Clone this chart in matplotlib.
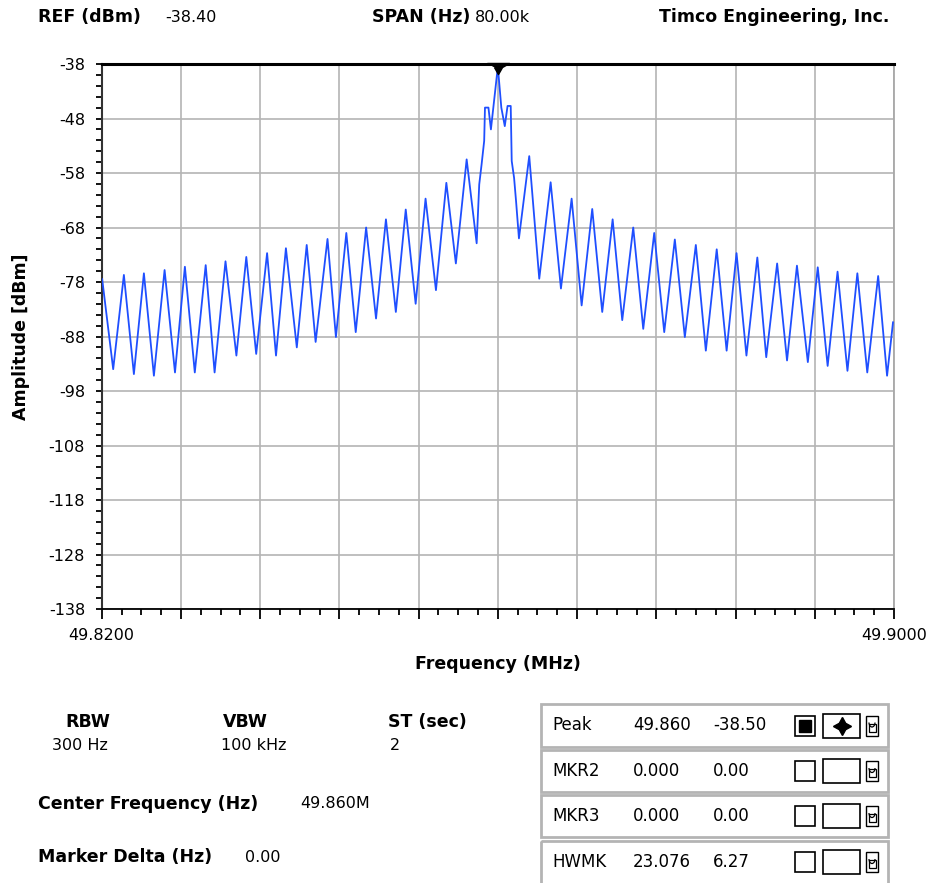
import numpy as np
import matplotlib
matplotlib.use('Agg')
import matplotlib.pyplot as plt
from matplotlib.patches import Rectangle, Arc
from matplotlib.ticker import FixedLocator, FuncFormatter

# trace: offset from centre (kHz) and level (dBm)
offset_khz = [-39.95, -38.84, -37.76, -36.75, -35.74, -34.73, -33.65, -32.60,
              -31.60, -30.60, -29.50, -28.60, -27.50, -26.40, -25.40, -24.40,
              -23.30, -22.40, -21.40, -20.30, -19.30, -18.40, -17.20, -16.35,
              -15.30, -14.35, -13.30, -12.30, -11.30, -10.30, -9.30, -8.30,
              -7.30, -6.25, -5.20, -4.24, -3.15, -2.14, -1.88, -1.64, -1.38,
              -1.30, -0.95, -0.70, 0.00, 0.35, 0.70, 0.98, 1.30, 1.40, 1.64,
              1.84, 2.13, 3.17, 4.18, 5.33, 6.37, 7.45, 8.46, 9.53, 10.54,
              11.59, 12.56, 13.67, 14.68, 15.79, 16.80, 17.87, 18.88, 19.99,
              21.00, 22.10, 23.10, 24.10, 25.10, 26.20, 27.10, 28.20, 29.20,
              30.20, 31.30, 32.30, 33.30, 34.30, 35.30, 36.30, 37.30, 38.40,
              39.30, 39.90]
level_dbm = [-77.5, -94.0, -76.7, -94.9, -76.4, -95.2, -75.8, -94.6,
             -75.2, -94.6, -74.9, -94.6, -74.2, -91.5, -73.4, -91.2,
             -72.7, -91.5, -71.8, -90.0, -71.2, -89.0, -70.1, -88.1,
             -69.0, -87.2, -68.0, -84.7, -66.5, -83.5, -64.7, -82.0,
             -62.7, -79.5, -59.8, -74.6, -55.5, -70.9, -60.1, -56.4, -52.1,
             -46.0, -46.0, -50.0, -38.5, -46.0, -49.4, -45.7, -45.7, -55.8, -58.9,
             -63.2, -70.0, -54.9, -77.4, -59.7, -79.2, -62.7, -82.3, -64.6, -83.5,
             -66.5, -85.0, -68.0, -86.6, -69.0, -87.2, -70.2, -88.1, -71.2,
             -90.6, -72.0, -90.6, -72.7, -91.5, -73.5, -91.8, -74.6, -92.4,
             -75.0, -92.7, -75.3, -93.4, -76.1, -94.3, -76.4, -94.6, -76.9,
             -95.2, -85.4]

center_mhz = 49.860
span_khz = 80.0
ref_dbm = -38.0
bottom_dbm = -138.0

header_labels = ['REF (dBm)', 'SPAN (Hz)']
header_values = ['-38.40', '80.00k']
company = 'Timco Engineering, Inc.'

bw_labels = ['RBW', 'VBW', 'ST (sec)']
bw_values = ['300 Hz', '100 kHz', '2']

mkr_names = ['Peak', 'MKR2', 'MKR3', 'HWMK']
mkr_freq = ['49.860', '0.000', '0.000', '23.076']
mkr_amp = ['-38.50', '0.00', '0.00', '6.27']

W, H = 934, 883
plt.rcParams['font.family'] = 'DejaVu Sans'
fig = plt.figure(figsize=(W / 100, H / 100), dpi=100)

# background layer in pixel coords for the screen text and marker table
bg = fig.add_axes([0, 0, 1, 1])
bg.set_xlim(0, W)
bg.set_ylim(H, 0)
bg.axis('off')

ax = fig.add_axes([101.7 / W, (H - 609) / H, (894 - 101.7) / W, (609 - 64) / H])

freq = center_mhz + np.array(offset_khz) / 1000.0
ax.plot(freq, level_dbm, color='#1f4fff', lw=1.3, zorder=3)

xmin = center_mhz - span_khz / 2000.0
xmax = center_mhz + span_khz / 2000.0
ax.set_xlim(xmin, xmax)
ax.set_ylim(bottom_dbm, ref_dbm)

ax.xaxis.set_major_locator(FixedLocator(np.linspace(xmin, xmax, 11)))
ax.xaxis.set_minor_locator(FixedLocator(np.linspace(xmin, xmax, 41)))
ax.yaxis.set_major_locator(FixedLocator(np.arange(bottom_dbm, ref_dbm + 1, 10)))
ax.yaxis.set_minor_locator(FixedLocator(np.arange(bottom_dbm, ref_dbm + 1, 2)))
ax.xaxis.set_major_formatter(FuncFormatter(
    lambda v, p: '%.4f' % v if (abs(v - xmin) < 1e-6 or abs(v - xmax) < 1e-6) else ''))
ax.yaxis.set_major_formatter(FuncFormatter(lambda v, p: '%d' % round(v)))

ax.grid(True, which='major', color='#b4b4b4', lw=1.2)
ax.tick_params(axis='x', which='major', direction='out', length=7, width=1.3, pad=7, labelsize=11.5)
ax.tick_params(axis='x', which='minor', direction='out', length=4.5, width=1.3)
ax.tick_params(axis='y', which='both', direction='out', length=4, width=1.3, pad=8, labelsize=11.5)

ax.spines['top'].set_linewidth(2.2)
ax.spines['top'].set_color('black')
ax.spines['left'].set_linewidth(1.5)
ax.spines['left'].set_color('#333333')
ax.spines['bottom'].set_linewidth(1.3)
ax.spines['right'].set_linewidth(1.3)
ax.spines['right'].set_color('#a8a8a8')

ax.set_xlabel('Frequency (MHz)', fontsize=12.5, fontweight='bold')
ax.set_ylabel('Amplitude [dBm]', fontsize=12.5, fontweight='bold')
ax.xaxis.set_label_coords(0.5, (609 - 655) / 545.0)
ax.yaxis.set_label_coords((30 - 101.7) / 792.3, 0.5)

# peak marker on the top edge
pk = int(np.argmax(level_dbm))
mk = [(-11, 1), (11, 1), (4, -3), (0, -10), (-4, -3)]
ax.plot(freq[pk], ref_dbm, marker=mk, markersize=16, color='black', clip_on=False, zorder=5)

fig.canvas.draw()
rend = fig.canvas.get_renderer()


def label_value(x, y, lab, val, val_x):
    t = bg.text(x, y, lab, fontsize=12.5, fontweight='bold', va='center')
    bb = t.get_window_extent(rend)
    xe = bb.x1 + 5
    bg.text(max(val_x, xe), y, val, fontsize=11.5, va='center')


# header line
label_value(38, 17, header_labels[0], header_values[0], 165)
label_value(372, 17, header_labels[1], header_values[1], 468)
bg.text(889, 17, company, fontsize=12.5, fontweight='bold', va='center', ha='right')

# bandwidth block
for x, lab in zip([88, 245, 388], bw_labels):
    ha = 'left' if lab.startswith('ST') else 'center'
    bg.text(x, 722, lab, fontsize=12.5, fontweight='bold', va='center', ha=ha)
for x, val in zip([80, 254, 390], bw_values):
    ha = 'left' if val == '2' else 'center'
    bg.text(x, 746, val, fontsize=11.5, va='center', ha=ha)

label_value(38, 804, 'Center Frequency (Hz)', '49.860M', 300)
label_value(38, 857, 'Marker Delta (Hz)', '0.00', 245)

# marker table
rows = [(704, 747), (750, 792), (795, 837), (841, 890)]
for i, (y0, y1) in enumerate(rows):
    bg.add_patch(Rectangle((541, y0), 347, y1 - y0, fill=False, ec='#b4b4b4', lw=2))
    ym = (y0 + y1) / 2.0 if i < 3 else 862
    bg.text(552, ym, mkr_names[i], fontsize=12, va='center')
    bg.text(633, ym, mkr_freq[i], fontsize=12, va='center')
    bg.text(713, ym, mkr_amp[i], fontsize=12, va='center')
    bg.add_patch(Rectangle((795, ym - 10), 20, 20, fill=False, ec='black', lw=1.2))
    bg.add_patch(Rectangle((823, ym - 12), 37, 24, fill=False, ec='black', lw=1.2))
    # lock icon
    bg.add_patch(Rectangle((866, ym - 10), 12, 20, fill=False, ec='black', lw=1.0))
    bg.add_patch(Arc((872, ym - 3), 6, 9, theta1=0, theta2=180, ec='black', lw=0.9))
    bg.add_patch(Rectangle((868.5, ym - 2), 7, 8, fill=False, ec='black', lw=0.9))
    if i == 0:
        bg.add_patch(Rectangle((799, ym - 6), 12, 12, color='black'))
        bg.plot(841.5, ym, marker=(4, 1, 0), markersize=13, color='black')

fig.savefig('out.png', dpi=100)
